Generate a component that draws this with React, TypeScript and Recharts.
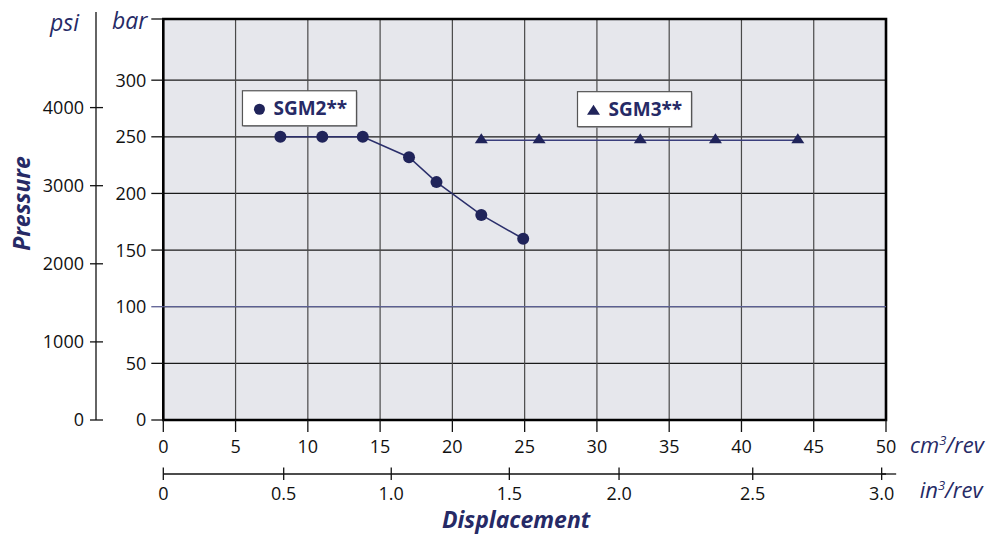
import React from "react";
import {
  LineChart,
  Line,
  XAxis,
  YAxis,
  CartesianGrid,
  ReferenceLine,
  ReferenceArea,
  ReferenceDot,
  Label,
} from "recharts";

const NAVY = "#262a66";
const MARK = "#20245a";
const LINE = "#2b2f6b";
const INK = "#111";
const FONT = "'Open Sans', sans-serif";

// displacement cm3/rev -> pressure bar
const sgm2 = [
  { x: 8.1, y: 250 },
  { x: 11.0, y: 250 },
  { x: 13.8, y: 250 },
  { x: 17.0, y: 232 },
  { x: 18.9, y: 210 },
  { x: 22.0, y: 181 },
  { x: 24.9, y: 160 },
];
const sgm3 = [
  { x: 22.0, y: 247 },
  { x: 26.0, y: 247 },
  { x: 33.0, y: 247 },
  { x: 38.2, y: 247 },
  { x: 43.9, y: 247 },
];

const cmTicks = [0, 5, 10, 15, 20, 25, 30, 35, 40, 45, 50];
const barTicks = [0, 50, 100, 150, 200, 250, 300];
const BAR_TOP = 354;
const PSI_PER_BAR = 14.5038;
const PSI_TOP = BAR_TOP * PSI_PER_BAR;
const psiTicks = [0, 1000, 2000, 3000, 4000];
const inTickLabels = ["0", "0.5", "1.0", "1.5", "2.0", "2.5", "3.0"];
// where the in3/rev ticks sit on the cm3/rev scale in the original drawing
const inTickPos = [0, 8.33, 15.77, 23.94, 31.53, 40.78, 49.7];

const legends = [
  { name: "SGM2**", marker: "circle", x: 9.42, y: 275.2 },
  { name: "SGM3**", marker: "triangle", x: 32.6, y: 274.4 },
];

// same curve in psi, only there so the psi / in3 axes get a scale
const sgm2Psi = sgm2.map((p) => ({ x: p.x, y: p.y * PSI_PER_BAR }));

function triangle(cx: number, cy: number, key?: any) {
  return (
    <path
      key={key}
      d={`M${cx},${cy - 7} L${cx + 6.5},${cy + 3} L${cx - 6.5},${cy + 3} Z`}
      fill={MARK}
    />
  );
}

function BarTick(props: any) {
  const { x, y, payload } = props;
  const v = payload.value;
  return (
    <g>
      <line
        x1={x - 12}
        x2={x}
        y1={y}
        y2={y}
        stroke={v === 100 ? "#5b5f92" : INK}
        strokeWidth={1.3}
      />
      {v === BAR_TOP ? (
        <text x={x - 16} y={y + 10} textAnchor="end" fontStyle="italic" fontSize={23} fill={NAVY} fontFamily={FONT}>
          bar
        </text>
      ) : (
        <text x={x - 17} y={y} dy="0.36em" textAnchor="end" fontSize={18} fill={INK} fontFamily={FONT}>
          {v}
        </text>
      )}
    </g>
  );
}

function PsiTick(props: any) {
  const { x, y, payload } = props;
  const v = payload.value;
  if (v === PSI_TOP) {
    return (
      <g>
        <line x1={x} x2={x} y1={y} y2={y - 7} stroke={INK} strokeWidth={1.3} />
        <text x={x - 17} y={y + 12} textAnchor="end" fontStyle="italic" fontSize={23} fill={NAVY} fontFamily={FONT}>
          psi
        </text>
      </g>
    );
  }
  return (
    <g>
      <line x1={x - 6} x2={x + 7} y1={y} y2={y} stroke={INK} strokeWidth={1.3} />
      <text x={x - 12} y={y} dy="0.36em" textAnchor="end" fontSize={18} fill={INK} fontFamily={FONT}>
        {v}
      </text>
    </g>
  );
}

function CmTick(props: any) {
  const { x, y, payload } = props;
  const base = y + 12.8;
  return (
    <g>
      <text x={x} y={base} textAnchor="middle" fontSize={18} fill={INK} fontFamily={FONT}>
        {payload.value}
      </text>
      {payload.value === 50 && (
        <text x={x + 24} y={base} fontStyle="italic" fontSize={22} fill={NAVY} fontFamily={FONT}>
          cm
          <tspan dy={-8} fontSize={13}>3</tspan>
          <tspan dy={8}>/rev</tspan>
        </text>
      )}
    </g>
  );
}

function InTick(props: any) {
  const { x, y, index } = props;
  const last = index === inTickPos.length - 1;
  const base = y + 26;
  return (
    <g>
      <line x1={x} x2={x} y1={y - 6.5} y2={y + 6} stroke={INK} strokeWidth={1.3} />
      {last && <line x1={x} x2={x + 14.5} y1={y} y2={y} stroke={INK} strokeWidth={1.3} />}
      <text x={x} y={base} textAnchor="middle" fontSize={18} fill={INK} fontFamily={FONT}>
        {inTickLabels[index]}
      </text>
      {last && (
        <text x={x + 38} y={base - 2} fontStyle="italic" fontSize={22} fill={NAVY} fontFamily={FONT}>
          in
          <tspan dy={-8} fontSize={13}>3</tspan>
          <tspan dy={8}>/rev</tspan>
        </text>
      )}
    </g>
  );
}

function LegendBox({ cx, cy, name, marker }: any) {
  return (
    <g>
      <rect x={cx - 56} y={cy - 16.5} width={114} height={35} fill="#9a9aa2" />
      <rect x={cx - 57} y={cy - 17.5} width={114} height={35} fill="#fff" stroke="#555" strokeWidth={1.2} />
      {marker === "circle" ? <circle cx={cx - 40} cy={cy + 1} r={5.5} fill={MARK} /> : triangle(cx - 41, cy + 2.5)}
      <text x={cx - 26} y={cy + 6.7} fontSize={19} fontWeight={700} fill={NAVY} fontFamily={FONT}>
        {name}
      </text>
    </g>
  );
}

export default function App() {
  return (
    <div style={{ position: "absolute", top: 0, left: 0 }}>
      <LineChart
        width={1003}
        height={534}
        margin={{ top: 19, right: 117, bottom: 0, left: 8 }}
        style={{ fontFamily: FONT }}
      >
        <CartesianGrid
          xAxisId="cm"
          yAxisId="bar"
          fill="#e6e7ec"
          vertical={(p: any) => (
            <line key={`v-${p.x1}`} x1={p.x1} x2={p.x2} y1={p.y1} y2={p.y2} stroke="#4a4a4a" strokeWidth={1.2} />
          )}
          horizontal={(p: any) => (
            <line key={`h-${p.y1}`} x1={p.x1} x2={p.x2} y1={p.y1} y2={p.y2} stroke="#1a1a1a" strokeWidth={1.2} />
          )}
        />
        <XAxis
          xAxisId="cm"
          type="number"
          dataKey="x"
          domain={[0, 50]}
          ticks={cmTicks}
          interval={0}
          height={54}
          tickSize={12}
          tickMargin={8}
          axisLine={false}
          tickLine={{ stroke: INK, strokeWidth: 1.3 }}
          tick={CmTick}
        />
        <XAxis
          xAxisId="in"
          type="number"
          dataKey="x"
          domain={[0, 50]}
          ticks={inTickPos}
          interval={0}
          height={60}
          tickSize={0}
          tickMargin={0}
          tickLine={false}
          axisLine={{ stroke: INK, strokeWidth: 1.3 }}
          tick={InTick}
        >
          <Label
            content={(p: any) => {
              const vb = p.viewBox;
              return (
                <text
                  x={vb.x + vb.width / 2 - 8.6}
                  y={vb.y + 54}
                  textAnchor="middle"
                  fontSize={23}
                  fontWeight={700}
                  fontStyle="italic"
                  fill={NAVY}
                  fontFamily={FONT}
                >
                  Displacement
                </text>
              );
            }}
          />
        </XAxis>
        <YAxis
          yAxisId="bar"
          type="number"
          domain={[0, BAR_TOP]}
          ticks={[...barTicks, BAR_TOP]}
          interval={0}
          width={67.3}
          tickSize={0}
          tickMargin={0}
          tickLine={false}
          axisLine={false}
          tick={BarTick}
        />
        <YAxis
          yAxisId="psi"
          type="number"
          domain={[0, PSI_TOP]}
          ticks={[...psiTicks, PSI_TOP]}
          interval={0}
          width={88}
          tickSize={0}
          tickMargin={0}
          tickLine={false}
          axisLine={{ stroke: INK, strokeWidth: 1.3 }}
          tick={PsiTick}
        >
          <Label
            content={(p: any) => {
              const vb = p.viewBox;
              const cx = vb.x + 22;
              const cy = vb.y + vb.height / 2 - 16;
              return (
                <text
                  x={cx}
                  y={cy}
                  transform={`rotate(-90 ${cx} ${cy})`}
                  textAnchor="middle"
                  fontSize={23}
                  fontWeight={700}
                  fontStyle="italic"
                  fill={NAVY}
                  fontFamily={FONT}
                >
                  Pressure
                </text>
              );
            }}
          />
        </YAxis>
        <ReferenceLine xAxisId="cm" yAxisId="bar" y={100} stroke="#5b5f92" strokeWidth={1.3} />
        <ReferenceArea
          xAxisId="cm"
          yAxisId="bar"
          x1={0}
          x2={50}
          y1={0}
          y2={BAR_TOP}
          fill="none"
          fillOpacity={0}
          stroke="#000"
          strokeWidth={2.6}
          ifOverflow="visible"
        />
        <Line
          xAxisId="in"
          yAxisId="psi"
          data={sgm2Psi}
          dataKey="y"
          stroke="none"
          dot={false}
          activeDot={false}
          isAnimationActive={false}
        />
        <Line
          xAxisId="cm"
          yAxisId="bar"
          data={sgm2}
          dataKey="y"
          stroke={LINE}
          strokeWidth={1.5}
          dot={{ r: 6, fill: MARK, stroke: MARK, strokeWidth: 0 }}
          isAnimationActive={false}
        />
        <Line
          xAxisId="cm"
          yAxisId="bar"
          data={sgm3}
          dataKey="y"
          stroke="#3a3e7c"
          strokeWidth={1.5}
          dot={(p: any) => triangle(p.cx, p.cy, `t-${p.index}`)}
          isAnimationActive={false}
        />
        {legends.map((l) => (
          <ReferenceDot
            key={l.name}
            xAxisId="cm"
            yAxisId="bar"
            x={l.x}
            y={l.y}
            ifOverflow="visible"
            shape={(p: any) => <LegendBox cx={p.cx} cy={p.cy} name={l.name} marker={l.marker} />}
          />
        ))}
      </LineChart>
    </div>
  );
}
